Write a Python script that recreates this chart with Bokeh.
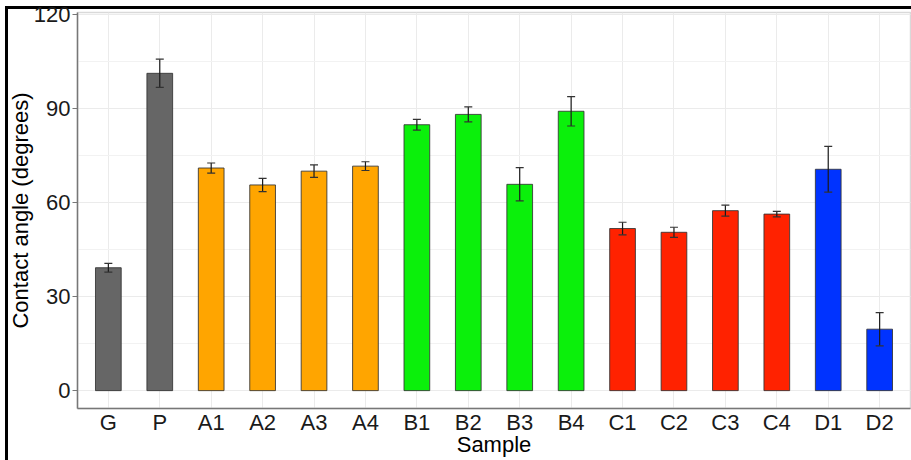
from bokeh.plotting import figure
from bokeh.models import (FactorRange, Range1d, ColumnDataSource, Whisker, TeeHead,
                          SingleIntervalTicker)
from bokeh.embed import file_html
from bokeh.resources import INLINE

samples = ["G", "P", "A1", "A2", "A3", "A4", "B1", "B2", "B3", "B4",
           "C1", "C2", "C3", "C4", "D1", "D2"]
groups = ["G", "G", "A", "A", "A", "A", "B", "B", "B", "B",
          "C", "C", "C", "C", "D", "D"]
angles = [39.2, 101.2, 71.0, 65.6, 70.0, 71.6, 84.8, 88.1, 65.8, 89.1,
          51.7, 50.5, 57.4, 56.3, 70.6, 19.6]
errors = [1.4, 4.5, 1.6, 2.1, 2.0, 1.4, 1.7, 2.4, 5.3, 4.7,
          2.0, 1.6, 1.75, 0.9, 7.3, 5.3]
y_ticks = [0, 30, 60, 90, 120]

palette = {"G": "#666666", "A": "#FFA500", "B": "#0BF00B", "C": "#FF2200", "D": "#0033FF"}

src = ColumnDataSource(dict(
    x=samples,
    top=angles,
    upper=[a + e for a, e in zip(angles, errors)],
    lower=[a - e for a, e in zip(angles, errors)],
    color=[palette[g] for g in groups],
))

FONT = "Liberation Sans"

p = figure(
    width=911, height=460,
    x_range=FactorRange(factors=samples, range_padding=0.1, range_padding_units="absolute"),
    y_range=Range1d(-5.7, 120.6),
    output_backend="svg", toolbar_location=None,
    min_border_left=77, min_border_right=1, min_border_top=12, min_border_bottom=52,
    background_fill_color="white", border_fill_color="white", border_fill_alpha=0.0,
)
p.styles = {"box-shadow": "inset 5px 6px 0 0 white, inset 8px 9px 0 0 black",
            "background-color": "white"}

p.vbar(x="x", top="top", bottom=0, width=0.5, source=src,
       fill_color="color", line_color="#333333", line_alpha=0.85, line_width=1)

w = Whisker(source=src, base="x", upper="upper", lower="lower", level="overlay",
            line_color="#1a1a1a", line_width=1.2,
            upper_head=TeeHead(size=8, line_color="#333333", line_width=1.2),
            lower_head=TeeHead(size=8, line_color="#333333", line_width=1.2))
p.add_layout(w)

p.outline_line_color = "#d9d9d9"
p.outline_line_width = 1.5

p.yaxis.ticker = SingleIntervalTicker(interval=30, num_minor_ticks=2)
p.ygrid.grid_line_color = "#ebebeb"
p.ygrid.minor_grid_line_color = "#f2f2f2"
p.xgrid.grid_line_color = "#ebebeb"

for ax in (p.xaxis, p.yaxis):
    ax.axis_line_color = "#777777"
    ax.axis_line_width = 1.5
    ax.major_tick_line_color = "#777777"
    ax.minor_tick_line_color = None
    ax.major_label_text_font = FONT
    ax.major_label_text_font_size = "22px"
    ax.major_label_text_color = "#1a1a1a"
    ax.axis_label_text_font = FONT
    ax.axis_label_text_font_size = "22px"
    ax.axis_label_text_font_style = "normal"
    ax.axis_label_text_color = "black"

p.yaxis.major_tick_in = 0
p.yaxis.major_tick_out = 5
p.yaxis.major_label_standoff = 2
p.yaxis.axis_label = "Contact angle (degrees)"
p.yaxis.axis_label_standoff = -2

p.xaxis.major_tick_in = 0
p.xaxis.major_tick_out = 0
p.xaxis.major_label_standoff = 1
p.xaxis.axis_label = "Sample"
p.xaxis.axis_label_standoff = -6

open("out.html", "w").write(file_html(p, INLINE))
